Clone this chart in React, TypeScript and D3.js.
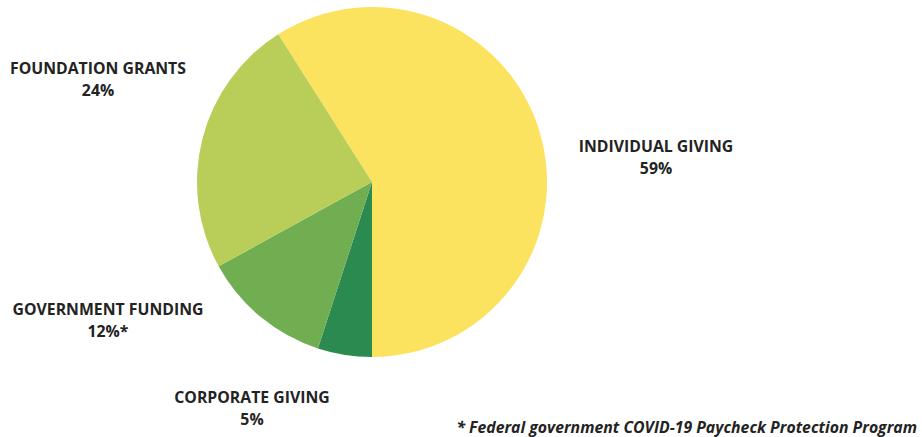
import React, { useEffect, useRef } from 'react';
import * as d3 from 'd3';

const categories = ['INDIVIDUAL GIVING', 'CORPORATE GIVING', 'GOVERNMENT FUNDING', 'FOUNDATION GRANTS'];
const values = [59, 5, 12, 24];
const valueLabels = ['59%', '5%', '12%*', '24%'];
const colors = ['#fbe35f', '#2b8a4f', '#70ae51', '#b9cd59'];
const footnote = '* Federal government COVID-19 Paycheck Protection Program';

// label anchor positions (centre x, first baseline)
const labelPos: [number, number][] = [
  [656, 152],
  [252, 403],
  [108, 315],
  [98, 74],
];

const W = 922;
const H = 437;

const App: React.FC = () => {
  const svgRef = useRef<SVGSVGElement>(null);

  useEffect(() => {
    if (!svgRef.current) return;
    const svg = d3.select(svgRef.current);
    svg.selectAll('*').remove();

    const cx = 372, cy = 182, r = 175;
    const total = d3.sum(values);
    // first slice ends straight down
    const start = Math.PI - (values[0] / total) * 2 * Math.PI;

    const pie = d3.pie<number>()
      .sort(null)
      .startAngle(start)
      .endAngle(start + 2 * Math.PI);
    const arc = d3.arc<d3.PieArcDatum<number>>().innerRadius(0).outerRadius(r);

    const g = svg.append('g').attr('transform', `translate(${cx},${cy})`);
    g.selectAll('path')
      .data(pie(values))
      .join('path')
      .attr('d', arc)
      .attr('fill', (_, i) => colors[i]);

    const labels = svg.append('g')
      .attr('font-family', "'Open Sans', sans-serif")
      .attr('font-weight', 'bold')
      .attr('font-size', '15.8px')
      .attr('fill', '#232323')
      .attr('text-anchor', 'middle');

    categories.forEach((c, i) => {
      const [x, y] = labelPos[i];
      labels.append('text').attr('x', x).attr('y', y).text(c);
      labels.append('text').attr('x', x).attr('y', y + 22).text(valueLabels[i]);
    });

    svg.append('text')
      .attr('x', 917)
      .attr('y', 433)
      .attr('text-anchor', 'end')
      .attr('font-family', "'Open Sans', sans-serif")
      .attr('font-weight', 'bold')
      .attr('font-style', 'italic')
      .attr('font-size', '15.8px')
      .attr('fill', '#232323')
      .text(footnote);
  }, []);

  return (
    <svg ref={svgRef} width={W} height={H} style={{ position: 'absolute', left: 0, top: 0, background: '#fff' }} />
  );
};

export default App;
